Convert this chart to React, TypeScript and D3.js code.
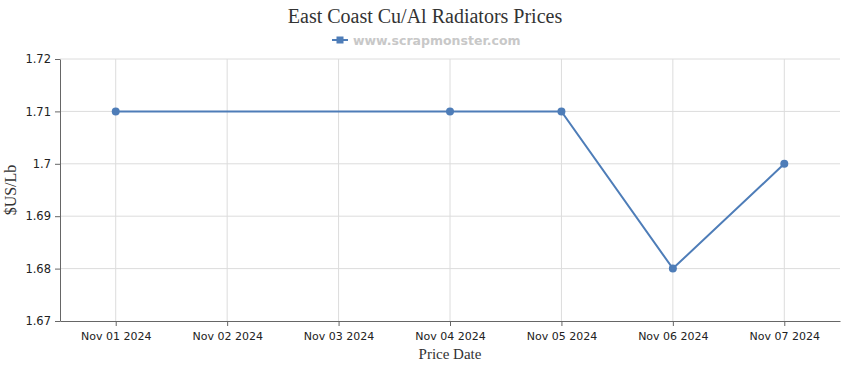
// @ts-nocheck
import React from "react";
import * as d3 from "d3";

const dates = ["Nov 01 2024", "Nov 02 2024", "Nov 03 2024", "Nov 04 2024", "Nov 05 2024", "Nov 06 2024", "Nov 07 2024"];
// price points only exist on some dates
const pointDates = ["Nov 01 2024", "Nov 04 2024", "Nov 05 2024", "Nov 06 2024", "Nov 07 2024"];
const pointValues = [1.71, 1.71, 1.71, 1.68, 1.70];
const yTicks = [1.67, 1.68, 1.69, 1.70, 1.71, 1.72];
const yTickLabels = ["1.67", "1.68", "1.69", "1.7", "1.71", "1.72"];

const W = 850;
const H = 370;
const margin = { top: 59, right: 10, bottom: 49, left: 60 };
const lineColor = "#4e7db8";

const App = () => {
  const svgRef = React.useRef(null);

  React.useEffect(() => {
    const width = W - margin.left - margin.right;
    const height = H - margin.top - margin.bottom;

    const xScale = d3.scalePoint().domain(dates).range([0, width]).padding(0.5);
    const yScale = d3.scaleLinear().domain([1.67, 1.72]).range([height, 0]);

    const svgEl = d3.select(svgRef.current);
    svgEl.selectAll("*").remove();
    const svg = svgEl.append("g").attr("transform", `translate(${margin.left},${margin.top})`);

    // grid
    svg.append("g")
      .selectAll("line")
      .data(dates)
      .enter()
      .append("line")
      .attr("x1", d => xScale(d))
      .attr("x2", d => xScale(d))
      .attr("y1", 0)
      .attr("y2", height)
      .attr("stroke", "#dcdcdc");
    svg.append("g")
      .selectAll("line")
      .data(yTicks.slice(1))
      .enter()
      .append("line")
      .attr("x1", 0)
      .attr("x2", width)
      .attr("y1", d => yScale(d))
      .attr("y2", d => yScale(d))
      .attr("stroke", "#dcdcdc");

    // axes
    const xAxis = svg.append("g")
      .attr("transform", `translate(0,${height})`)
      .call(d3.axisBottom(xScale).tickSize(5).tickPadding(6).tickSizeOuter(0));
    xAxis.select(".domain").attr("stroke", "#666");
    xAxis.selectAll("line").attr("stroke", "#666");
    xAxis.selectAll("text")
      .attr("fill", "#222")
      .attr("font-family", "DejaVu Sans, sans-serif")
      .attr("font-size", "11px");

    const yAxis = svg.append("g")
      .call(d3.axisLeft(yScale).tickValues(yTicks).tickFormat((d, i) => yTickLabels[i]).tickSize(5).tickPadding(4).tickSizeOuter(0));
    yAxis.select(".domain").attr("stroke", "#666");
    yAxis.selectAll("line").attr("stroke", "#666");
    yAxis.selectAll("text")
      .attr("fill", "#222")
      .attr("font-family", "DejaVu Sans, sans-serif")
      .attr("font-size", "11.5px");

    // line + points
    const pts = pointDates.map((d, i) => ({ date: d, value: pointValues[i] }));
    const line = d3.line().x(d => xScale(d.date)).y(d => yScale(d.value));
    svg.append("path")
      .datum(pts)
      .attr("fill", "none")
      .attr("stroke", lineColor)
      .attr("stroke-width", 2)
      .attr("d", line);
    svg.append("g")
      .selectAll("circle")
      .data(pts)
      .enter()
      .append("circle")
      .attr("cx", d => xScale(d.date))
      .attr("cy", d => yScale(d.value))
      .attr("r", 4)
      .attr("fill", lineColor);

    // title & legend
    svgEl.append("text")
      .attr("x", W / 2)
      .attr("y", 23)
      .attr("text-anchor", "middle")
      .attr("font-family", "Liberation Serif, serif")
      .attr("font-size", "20px")
      .attr("fill", "#333")
      .text("East Coast Cu/Al Radiators Prices");
    const lg = svgEl.append("g").attr("transform", "translate(332,40)");
    lg.append("line").attr("x1", 0).attr("x2", 16).attr("y1", 0).attr("y2", 0).attr("stroke", lineColor).attr("stroke-width", 2);
    lg.append("rect").attr("x", 4.5).attr("y", -3.5).attr("width", 7).attr("height", 7).attr("fill", lineColor);
    lg.append("text")
      .attr("x", 21)
      .attr("y", 4.5)
      .attr("font-family", "DejaVu Sans, sans-serif")
      .attr("font-weight", "bold")
      .attr("font-size", "12.5px")
      .attr("fill", "#c8c8c8")
      .text("www.scrapmonster.com");

    // axis titles
    svgEl.append("text")
      .attr("transform", `translate(16,${margin.top + height / 2}) rotate(-90)`)
      .attr("text-anchor", "middle")
      .attr("font-family", "Liberation Serif, serif")
      .attr("font-size", "16px")
      .attr("fill", "#333")
      .text("$US/Lb");
    svgEl.append("text")
      .attr("x", margin.left + width / 2)
      .attr("y", 359)
      .attr("text-anchor", "middle")
      .attr("font-family", "Liberation Serif, serif")
      .attr("font-size", "15px")
      .attr("fill", "#333")
      .text("Price Date");
  }, []);

  return (
    <div style={{ position: "absolute", left: 0, top: 0 }}>
      <svg ref={svgRef} width={W} height={H} style={{ display: "block", background: "#fff" }} />
    </div>
  );
};

export default App;
